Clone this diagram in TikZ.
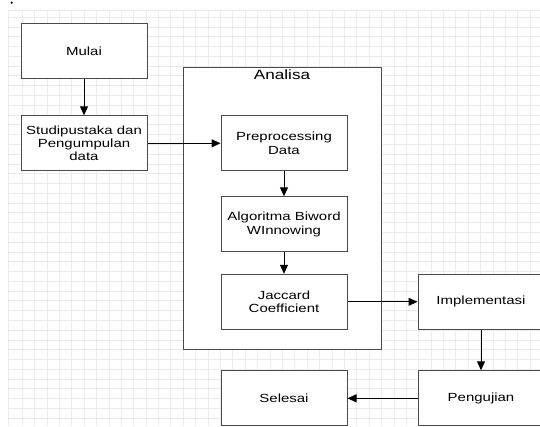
\documentclass[tikz,border=0pt]{standalone}
\usepackage{fontspec}
\setmainfont{Liberation Sans}[FakeStretch=1.27]
\usetikzlibrary{arrows.meta}
\definecolor{gridc}{HTML}{EBEBEB}
\definecolor{boxc}{HTML}{4A4A4A}
\tikzset{
  box/.style={draw=boxc, line width=1pt, fill=white, minimum width=126pt, minimum height=55pt,
    align=center, inner sep=1pt, font=\fontsize{11.8}{13.3}\selectfont},
  arr/.style={draw=black, line width=1pt, -{Triangle[width=8pt,length=9pt]}},
  gridline/.style={draw=gridc, line width=1pt}
}
\begin{document}
\begin{tikzpicture}[x=1pt,y=-1pt]
\useasboundingbox (0,0) rectangle (540,426);
\clip (0,0) rectangle (540,426);
\fill[white] (0,0) rectangle (540,426);
% grid
\foreach \i in {0,...,42} {
  \draw[gridline] ({22.3+12.39*\i},10) -- ({22.3+12.39*\i},426);
}
\draw[gridline] (8,10) -- (8,426);
\foreach \j in {0,...,42} {
  \draw[gridline] (8,{17.3+9.78*\j}) -- (540,{17.3+9.78*\j});
}
\draw[gridline] (8,10) -- (540,10);
\fill[black] (11.7,2.7) circle (1.2pt);
% Analisa container
\node[draw=boxc, line width=1pt, fill=white, minimum width=198pt, minimum height=282pt, inner sep=0pt] (analisa) at (282,208) {};
\node[anchor=north, inner sep=0pt, font=\fontsize{13.5}{15}\selectfont] (analisalbl) at (282,69.5) {Analisa};
% boxes
\node[box] (mulai) at (84,51) {Mulai};
\node[box] (studi) at (84,143.3) {Studipustaka dan\\Pengumpulan\\data};
\node[box] (pre) at (284,143.3) {Preprocessing\\Data};
\node[box] (algo) at (284,224.3) {Algoritma Biword\\WInnowing};
\node[box] (jac) at (284,301.8) {Jaccard\\Coefficient};
\node[box] (impl) at (481,301.8) {Implementasi};
\node[box] (peng) at (481,398.3) {Pengujian};
\node[box] (sel) at (284,398.3) {Selesai};
% connectors
\draw[arr] (mulai) -- (studi);
\draw[arr] (studi) -- (pre);
\draw[arr] (pre) -- (algo);
\draw[arr] (algo) -- (jac);
\draw[arr] (jac) -- (impl);
\draw[arr] (impl) -- (peng);
\draw[arr] (peng) -- (sel);
\end{tikzpicture}
\end{document}
